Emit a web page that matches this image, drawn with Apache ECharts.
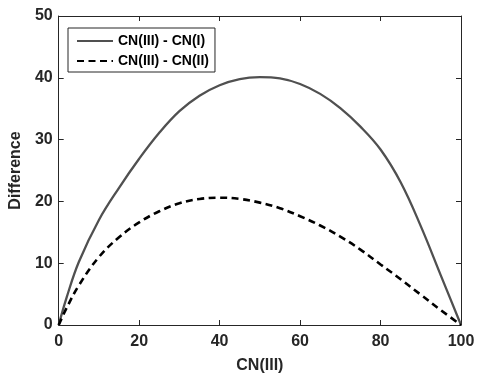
<!DOCTYPE html>
<html>
<head>
<meta charset="utf-8">
<script src="https://cdn.jsdelivr.net/npm/echarts@6/dist/echarts.min.js"></script>
<style>html,body{margin:0;padding:0;background:#fff}#c{width:478px;height:379px}</style>
</head>
<body>
<div id="c"></div>
<script>
var cnIII = [0, 2, 5, 10, 15, 20, 25, 30, 35, 40, 45, 50, 55, 60, 65, 70, 75, 80, 85, 90, 95, 100];
var diffI = [0, 4.5, 10.2, 17.0, 22.2, 26.9, 31.1, 34.6, 37.1, 38.8, 39.8, 40.1, 39.9, 39.0, 37.4, 35.1, 32.1, 28.4, 23.1, 16.0, 8.0, 0];
var diffII = [0, 2.8, 6.4, 11.0, 14.2, 16.6, 18.4, 19.7, 20.4, 20.6, 20.4, 19.8, 18.9, 17.6, 16.1, 14.3, 12.2, 9.8, 7.4, 4.9, 2.4, 0];
var xTicks = [0, 20, 40, 60, 80, 100];
var yTicks = [0, 10, 20, 30, 40, 50];
var seriesNames = ['CN(III) - CN(I)', 'CN(III) - CN(II)'];

function pairs(xs, ys) { return xs.map(function (x, i) { return [x, ys[i]]; }); }

var axisCol = '#262626';
var font = '"Liberation Sans", Arial, sans-serif';

var chart = echarts.init(document.getElementById('c'), null, {renderer: 'canvas'});
chart.setOption({
  backgroundColor: '#ffffff',
  animation: false,
  grid: {left: 56, right: 17, top: 16, bottom: 54, containLabel: false},
  legend: {
    left: 68, top: 28, orient: 'vertical',
    data: seriesNames,
    itemWidth: 36, itemHeight: 14, itemGap: 6,
    padding: [6, 6, 4, 8],
    borderColor: axisCol, borderWidth: 1,
    backgroundColor: '#ffffff',
    itemStyle: {opacity: 0, borderWidth: 0},
    textStyle: {fontFamily: font, fontWeight: 'bold', fontSize: 14, color: '#000'}
  },
  xAxis: [{
    type: 'value', min: xTicks[0], max: xTicks[xTicks.length - 1], interval: 20, position: 'bottom',
    name: 'CN(III)', nameLocation: 'middle', nameGap: 33,
    nameTextStyle: {fontFamily: font, fontWeight: 'bold', fontSize: 16, color: axisCol},
    axisLine: {show: true, lineStyle: {color: axisCol, width: 1}},
    axisTick: {show: true, inside: true, length: 5, lineStyle: {color: axisCol}},
    axisLabel: {fontFamily: font, fontWeight: 'bold', fontSize: 16, color: axisCol, margin: 9},
    splitLine: {show: false}
  }, {
    type: 'value', min: xTicks[0], max: xTicks[xTicks.length - 1], interval: 20, position: 'top',
    axisLine: {show: true, onZero: false, lineStyle: {color: axisCol, width: 1}},
    axisTick: {show: true, inside: true, length: 5, lineStyle: {color: axisCol}},
    axisLabel: {show: false}, splitLine: {show: false}
  }],
  yAxis: [{
    type: 'value', min: yTicks[0], max: yTicks[yTicks.length - 1], interval: 10, position: 'left',
    name: 'Difference', nameLocation: 'middle', nameGap: 34,
    nameTextStyle: {fontFamily: font, fontWeight: 'bold', fontSize: 16, color: axisCol},
    axisLine: {show: true, lineStyle: {color: axisCol, width: 1}},
    axisTick: {show: true, inside: true, length: 5, lineStyle: {color: axisCol}},
    axisLabel: {fontFamily: font, fontWeight: 'bold', fontSize: 16, color: axisCol, margin: 6},
    splitLine: {show: false}
  }, {
    type: 'value', min: yTicks[0], max: yTicks[yTicks.length - 1], interval: 10, position: 'right',
    axisLine: {show: true, onZero: false, lineStyle: {color: axisCol, width: 1}},
    axisTick: {show: true, inside: true, length: 5, lineStyle: {color: axisCol}},
    axisLabel: {show: false}, splitLine: {show: false}
  }],
  series: [{
    name: seriesNames[0], type: 'line', symbol: 'none', smooth: 0.4,
    data: pairs(cnIII, diffI),
    lineStyle: {color: '#505050', width: 2.3, type: 'solid'},
    itemStyle: {color: '#505050'}
  }, {
    name: seriesNames[1], type: 'line', symbol: 'none', smooth: 0.4,
    data: pairs(cnIII, diffII),
    lineStyle: {color: '#000000', width: 2.6, type: [7, 4.5]},
    itemStyle: {color: '#000000'}
  }]
});
</script>
</body>
</html>
